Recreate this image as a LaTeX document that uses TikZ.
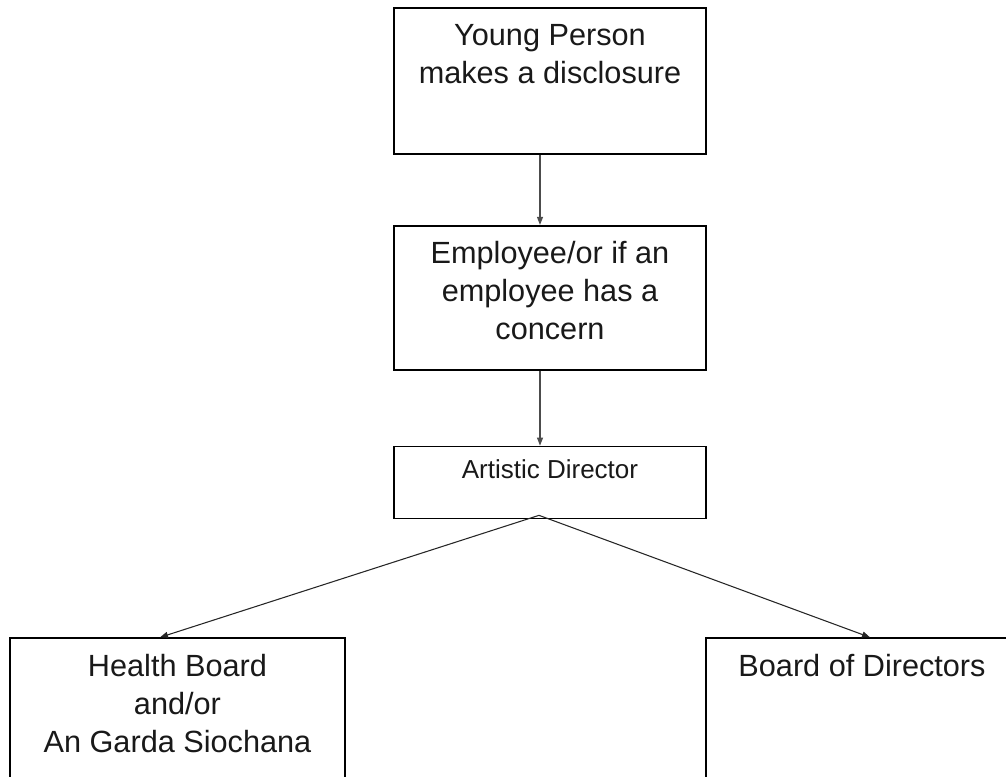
\documentclass[tikz,border=0pt]{standalone}
\usepackage{fontspec}
\setmainfont{Liberation Sans}
\usetikzlibrary{positioning}
\usetikzlibrary{arrows.meta}

\begin{document}
\begin{tikzpicture}[
  x=0.75pt, y=-0.75pt,
  box/.style={rectangle, draw=black, line width=1.3pt, minimum width=234pt, inner sep=0pt},
  txt/.style={align=center, inner sep=0pt, font=\fontsize{23}{28.5}\selectfont, text=black!90},
  small/.style={align=center, inner sep=0pt, font=\fontsize{19.5}{24}\selectfont, text=black!90},
  arrow/.style={-{Triangle[length=6pt, width=4.5pt]}, line width=0.8pt, draw=black!70}
]
  \useasboundingbox (0,0) rectangle (1006,776);
  \clip (0,0) rectangle (1006,776);

  \node[box, minimum height=109.5pt] (young) at (550,81) {};
  \node[box, minimum height=108pt, below=52.5pt of young] (employee) {};
  \node[box, minimum height=54pt, below=56.25pt of employee] (artistic) {};
  \node[box, minimum width=251.25pt, minimum height=109.5pt, below=88.5pt of artistic, xshift=-279.4pt] (health) {};
  \node[box, minimum height=109.5pt, below=88.5pt of artistic, xshift=234pt] (board) {};

  \node[txt, below=12.4pt of young.north] (youngtxt) {Young Person\\makes a disclosure};
  \node[txt, below=12.4pt of employee.north] (employeetxt) {Employee/or if an\\employee has a\\concern};
  \node[small, below=10.5pt of artistic.north] (artistictxt) {Artistic Director};
  \node[txt, below=12.4pt of health.north] (healthtxt) {Health Board\\and/or\\An Garda Siochana};
  \node[txt, below=12.4pt of board.north] (boardtxt) {Board of Directors};

  \coordinate (split) at ([xshift=-8.25pt, yshift=3pt]artistic.south);

  \draw[arrow] ([xshift=-7.5pt]young.south) -- ([xshift=-7.5pt]employee.north);
  \draw[arrow] ([xshift=-7.5pt]employee.south) -- ([xshift=-7.5pt]artistic.north);
  \draw[arrow, draw=black!85] (split) -- ([xshift=-13.1pt]health.north);
  \draw[arrow, draw=black!85] (split) -- ([xshift=6pt]board.north);
\end{tikzpicture}
\end{document}
